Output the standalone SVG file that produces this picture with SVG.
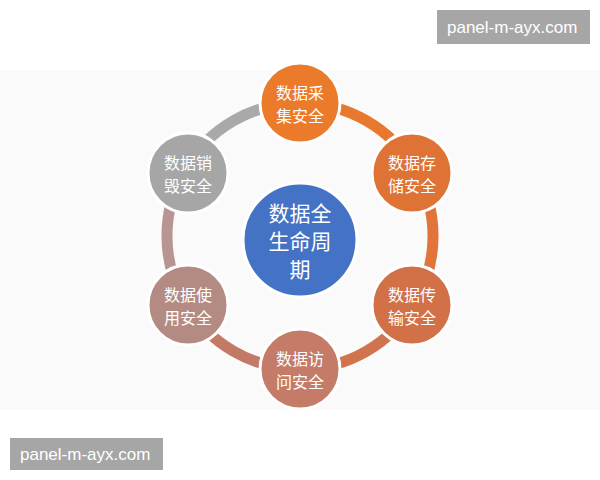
<svg xmlns="http://www.w3.org/2000/svg" width="600" height="480" viewBox="0 0 600 480">
<style>
.seg{fill:none;stroke-width:11}
.n{stroke:#fff;stroke-width:3}
.t{font-family:"Noto Sans CJK SC",sans-serif;fill:#fff;font-size:16px;text-anchor:middle}
.c{font-size:21px}
.wm rect{fill:#a6a6a6}
.wm text{font-family:"Liberation Sans",sans-serif;font-size:17px;fill:#fff}
</style>
<rect width="600" height="480" fill="#fff"/>
<rect x="0" y="70" width="600" height="340" fill="#fafafa"/>
<g id="connectors">
<path class="seg" stroke="#E8782E" d="M300,103 A133,133 0 0 1 415.2,169.5"/>
<path class="seg" stroke="#E0743A" d="M415.2,169.5 A133,133 0 0 1 415.2,302.5"/>
<path class="seg" stroke="#D0744E" d="M415.2,302.5 A133,133 0 0 1 300,369"/>
<path class="seg" stroke="#C27A66" d="M300,369 A133,133 0 0 1 184.8,302.5"/>
<path class="seg" stroke="#B89590" d="M184.8,302.5 A133,133 0 0 1 184.8,169.5"/>
<path class="seg" stroke="#A9A9A9" d="M184.8,169.5 A133,133 0 0 1 300,103"/>
</g>
<g id="center"><circle class="n" cx="300" cy="240" r="57" fill="#4472C4"/>
<text class="t c" x="300" y="221">数据全</text><text class="t c" x="300" y="249">生命周</text><text class="t c" x="300" y="277">期</text></g>
<g id="n1"><circle class="n" cx="300" cy="103" r="40" fill="#EB7A2A"/><text class="t" x="300" y="99">数据采</text><text class="t" x="300" y="122">集安全</text></g>
<g id="n2"><circle class="n" cx="412" cy="173" r="40" fill="#DF7235"/><text class="t" x="412" y="169">数据存</text><text class="t" x="412" y="192">储安全</text></g>
<g id="n3"><circle class="n" cx="412" cy="305" r="40" fill="#D27048"/><text class="t" x="412" y="301">数据传</text><text class="t" x="412" y="324">输安全</text></g>
<g id="n4"><circle class="n" cx="300" cy="369" r="40" fill="#C47C68"/><text class="t" x="300" y="365">数据访</text><text class="t" x="300" y="388">问安全</text></g>
<g id="n5"><circle class="n" cx="188" cy="305" r="40" fill="#B38B83"/><text class="t" x="188" y="301">数据使</text><text class="t" x="188" y="324">用安全</text></g>
<g id="n6"><circle class="n" cx="188" cy="173" r="40" fill="#A6A6A6"/><text class="t" x="188" y="169">数据销</text><text class="t" x="188" y="192">毁安全</text></g>
<g class="wm"><rect x="437" y="10" width="153" height="34"/><text x="447" y="33">panel-m-ayx.com</text>
<rect x="10" y="438" width="153" height="32"/><text x="20" y="460">panel-m-ayx.com</text></g>
</svg>
